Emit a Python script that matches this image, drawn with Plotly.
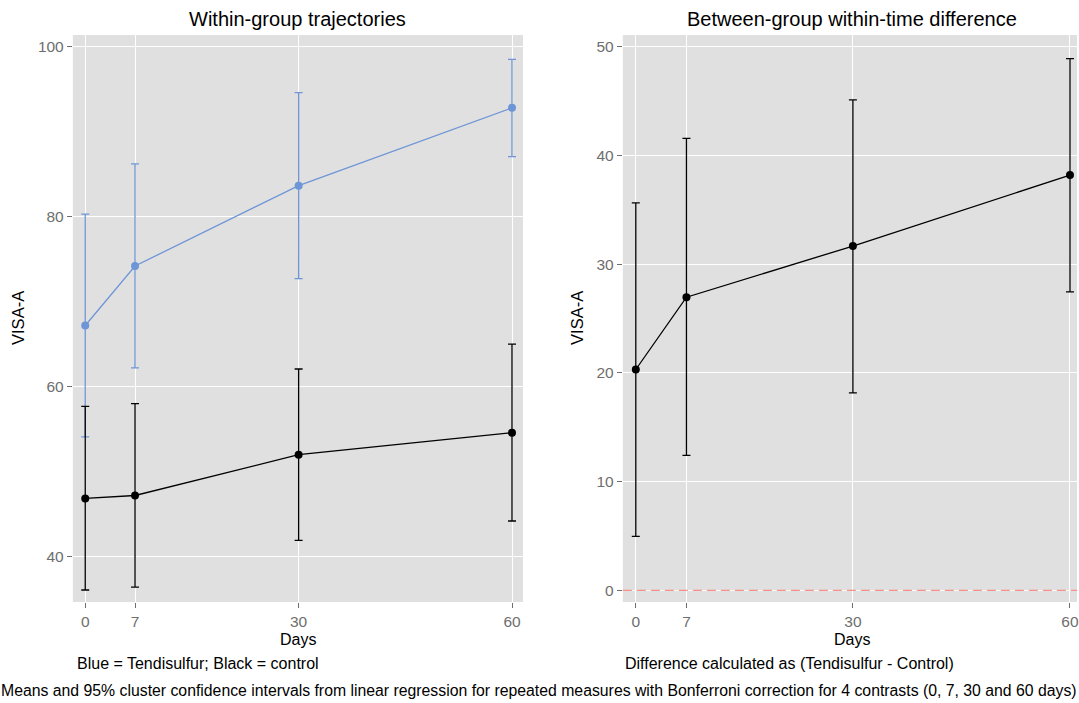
import plotly.graph_objects as go

# ---- data ----
days = [0, 7, 30, 60]
day_labels = ["0", "7", "30", "60"]

tend_mean = [67.2, 74.2, 83.65, 92.8]
tend_upper = [80.3, 86.2, 94.6, 98.5]
tend_lower = [54.1, 62.2, 72.7, 87.06]

ctrl_mean = [46.86, 47.2, 52.0, 54.59]
ctrl_upper = [57.69, 58.0, 62.08, 65.0]
ctrl_lower = [36.08, 36.43, 41.92, 44.2]

diff_mean = [20.31, 26.96, 31.66, 38.19]
diff_upper = [35.64, 41.56, 45.1, 48.9]
diff_lower = [4.97, 12.42, 18.16, 27.45]

left_yticks = [40, 60, 80, 100]
right_yticks = [0, 10, 20, 30, 40, 50]

W, H = 1079, 703
BLUE = "#6E95D6"
BLACK = "#000000"
FONT = "Liberation Sans, Arial, Helvetica, sans-serif"
TICKC = "#6E6E6E"
PANEL = "#E0E0E0"


def err(mean, up, lo):
    return dict(
        type="data",
        symmetric=False,
        array=[u - m for u, m in zip(up, mean)],
        arrayminus=[m - l for m, l in zip(mean, lo)],
    )


fig = go.Figure()

# left panel: blue (Tendisulfur) then black (control)
for mean, up, lo, col in [
    (tend_mean, tend_upper, tend_lower, BLUE),
    (ctrl_mean, ctrl_upper, ctrl_lower, BLACK),
]:
    e = err(mean, up, lo)
    e.update(color=col, thickness=1.3, width=4)
    fig.add_trace(
        go.Scatter(
            x=days, y=mean, mode="lines+markers",
            line=dict(color=col, width=1.3),
            marker=dict(color=col, size=8),
            error_y=e, xaxis="x", yaxis="y", showlegend=False,
        )
    )

# right panel
e = err(diff_mean, diff_upper, diff_lower)
e.update(color=BLACK, thickness=1.3, width=4)
fig.add_trace(
    go.Scatter(
        x=days, y=diff_mean, mode="lines+markers",
        line=dict(color=BLACK, width=1.3),
        marker=dict(color=BLACK, size=8),
        error_y=e, xaxis="x2", yaxis="y2", showlegend=False,
    )
)

# zero reference line in right panel
fig.add_shape(
    type="line", xref="x2 domain", yref="y2", x0=0, x1=1, y0=0, y1=0,
    line=dict(color="rgba(248,118,109,0.8)", width=1.4, dash="9px,5px"),
    layer="above",
)

ax_common = dict(
    showgrid=True, gridcolor="white", gridwidth=1.2,
    zeroline=False, showline=False,
    ticks="outside", ticklen=5, tickcolor=TICKC, tickwidth=1,
    tickfont=dict(family=FONT, size=15.5, color=TICKC),
    ticklabeloverflow="allow",
)

pl, pr = 73 / W, 524 / W
ql, qr = 624 / W, 1.0
yb, yt = 1 - 602 / H, 1 - 35 / H

fig.update_layout(
    width=W, height=H,
    margin=dict(l=0, r=0, t=0, b=0),
    paper_bgcolor="white", plot_bgcolor=PANEL,
    font=dict(family=FONT),
    xaxis=dict(domain=[pl, pr], range=[-1.74, 61.55], tickvals=days,
               ticktext=day_labels, anchor="y", **ax_common),
    yaxis=dict(domain=[yb, yt], range=[34.67, 101.37], tickvals=left_yticks,
               anchor="x", **ax_common),
    xaxis2=dict(domain=[ql, qr], range=[-1.79, 60.97], tickvals=days,
                ticktext=day_labels, anchor="y2", **ax_common),
    yaxis2=dict(domain=[yb, yt], range=[-1.07, 51.07], tickvals=right_yticks,
                anchor="x2", **ax_common),
)


def ann(text, xpx, ypx, size, color="black", angle=0):
    fig.add_annotation(
        text=text, xref="paper", yref="paper",
        x=xpx / W, y=1 - ypx / H, xanchor="center", yanchor="middle",
        showarrow=False, textangle=angle,
        font=dict(family=FONT, size=size, color=color),
    )


ann("Within-group trajectories", 298.5, 19, 20)
ann("Between-group within-time difference", 853.5, 19, 20)
ann("VISA-A", 18, 318, 16.5, angle=-90)
ann("VISA-A", 578, 318, 16.5, angle=-90)
ann("Days", 298.5, 639, 16)
ann("Days", 853.5, 639, 16)
ann("Blue = Tendisulfur; Black = control", 198, 663, 16)
ann("Difference calculated as (Tendisulfur - Control)", 791, 663, 16)
ann("Means and 95% cluster confidence intervals from linear regression for repeated measures "
    "with Bonferroni correction for 4 contrasts (0, 7, 30 and 60 days)", 539.5, 690, 15.8)

fig.write_html("out.html")
